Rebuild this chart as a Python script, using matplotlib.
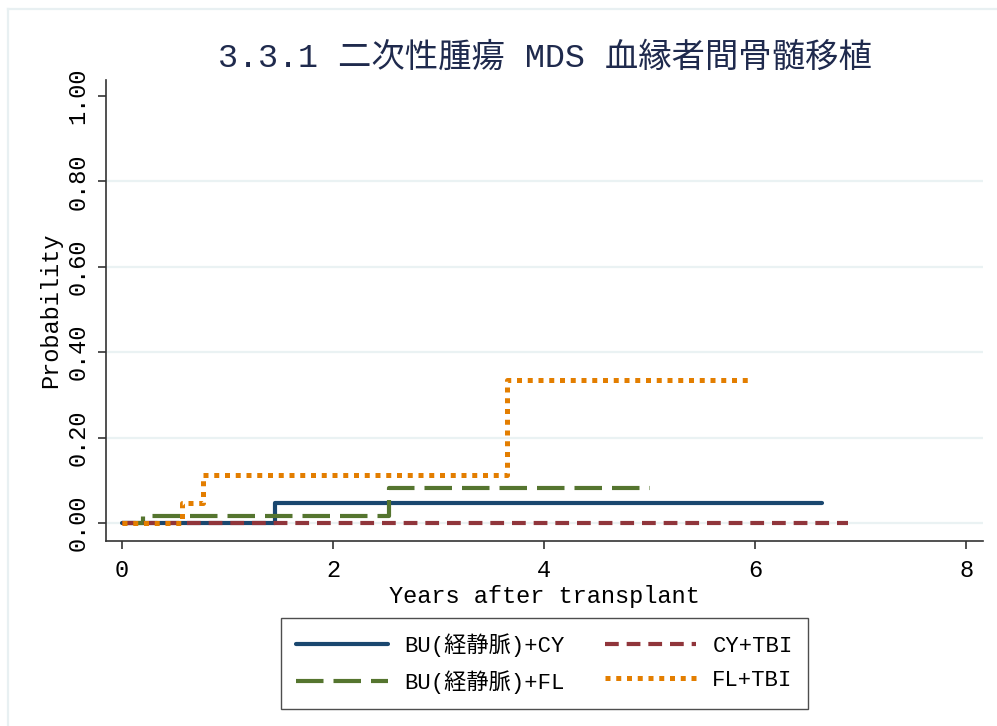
import matplotlib
matplotlib.use("Agg")
import matplotlib.pyplot as plt
from matplotlib.lines import Line2D

# ---- data ----
title = "3.3.1 二次性腫瘍 MDS 血縁者間骨髄移植"
labels = ["BU(経静脈)+CY", "BU(経静脈)+FL", "CY+TBI", "FL+TBI"]

bucy_t = [0.0, 1.45, 6.63]
bucy_p = [0.0, 0.047, 0.047]

bufl_t = [0.0, 0.20, 2.53, 5.00]
bufl_p = [0.0, 0.017, 0.082, 0.082]

cytbi_t = [0.0, 6.88]
cytbi_p = [0.0, 0.0]

fltbi_t = [0.0, 0.57, 0.77, 3.65, 5.93]
fltbi_p = [0.0, 0.047, 0.112, 0.335, 0.335]

xticks = [0, 2, 4, 6, 8]
yticks = [0.0, 0.2, 0.4, 0.6, 0.8, 1.0]
ytick_labels = ["0.00", "0.20", "0.40", "0.60", "0.80", "1.00"]

FONT = ["Liberation Mono", "Noto Sans CJK JP", "DejaVu Sans"]
plt.rcParams['font.family'] = FONT

W, H = 997, 726
fig = plt.figure(figsize=(W / 100, H / 100), dpi=100)
fig.patch.set_facecolor("white")

# outer light frame (left and top edges only visible)
fig.lines.append(Line2D([7.5 / W, 7.5 / W], [0, 1 - 9 / H], transform=fig.transFigure,
                        color="#e8f0f2", lw=1.6))
fig.lines.append(Line2D([7.5 / W, 1.0], [1 - 9 / H, 1 - 9 / H], transform=fig.transFigure,
                        color="#e8f0f2", lw=1.6))

ax = fig.add_axes([106 / W, 1 - 541 / H, (983 - 106) / W, (541 - 80) / H])
ax.set_xlim(-0.152, 8.16)
ax.set_ylim(-0.042, 1.037)

for y in [0.0, 0.2, 0.4, 0.6, 0.8]:
    ax.axhline(y, color="#eaf2f3", lw=1.6, zorder=0)

lw = 3.0
ax.step(bucy_t, bucy_p, where="post", color="#1a476f", lw=lw,
        solid_capstyle="round", label=labels[0], zorder=2)
l2, = ax.step(bufl_t, bufl_p, where="post", color="#55752f", lw=lw,
              label=labels[1], zorder=3)
l2.set_dashes([6.6, 2.4])
l3, = ax.step(cytbi_t, cytbi_p, where="post", color="#90353b", lw=lw,
              label=labels[2], zorder=4)
l3.set_dashes([3.3, 1.9])
l4, = ax.step(fltbi_t, fltbi_p, where="post", color="#e37e00", lw=3.6,
              label=labels[3], zorder=5)
l4.set_dashes([1.0, 1.15])
for l in (l2, l3, l4):
    l.set_dash_capstyle("butt")

for s in ["top", "right"]:
    ax.spines[s].set_visible(False)
for s in ["left", "bottom"]:
    ax.spines[s].set_color("#333333")
    ax.spines[s].set_linewidth(1.2)

ax.set_xticks(xticks)
ax.set_xticklabels([str(v) for v in xticks], fontsize=17)
ax.set_yticks(yticks)
ax.set_yticklabels(ytick_labels, fontsize=17, rotation=90, va="center")
ax.tick_params(axis="both", direction="out", length=6, width=1.2,
               color="#333333")
ax.tick_params(axis="x", pad=7)
ax.tick_params(axis="y", pad=6)

ax.set_xlabel("Years after transplant", fontsize=17)
ax.xaxis.set_label_coords(0.5, (541 - 597) / (541 - 80), transform=ax.transAxes)
ax.xaxis.label.set_va("center")
ax.set_ylabel("Probability", fontsize=17)
ax.yaxis.set_label_coords((51 - 106) / (983 - 106), 0.5, transform=ax.transAxes)
ax.yaxis.label.set_va("center")

fig.text(545 / W, 1 - 58 / H, title, fontsize=24, color="#1f2a4d",
         ha="center", va="center", family=FONT)

handles = list(ax.lines[-4:])
leg = fig.legend(handles=handles, labels=labels, ncol=2,
                 loc="center", bbox_to_anchor=(544.5 / W, 1 - 663.5 / H),
                 fontsize=16, frameon=True, fancybox=False,
                 edgecolor="#222222", handlelength=4.1, handletextpad=0.75,
                 columnspacing=1.8, labelspacing=0.6, borderpad=0.68)
leg.get_frame().set_linewidth(1.0)

fig.savefig("out.png", dpi=100)
